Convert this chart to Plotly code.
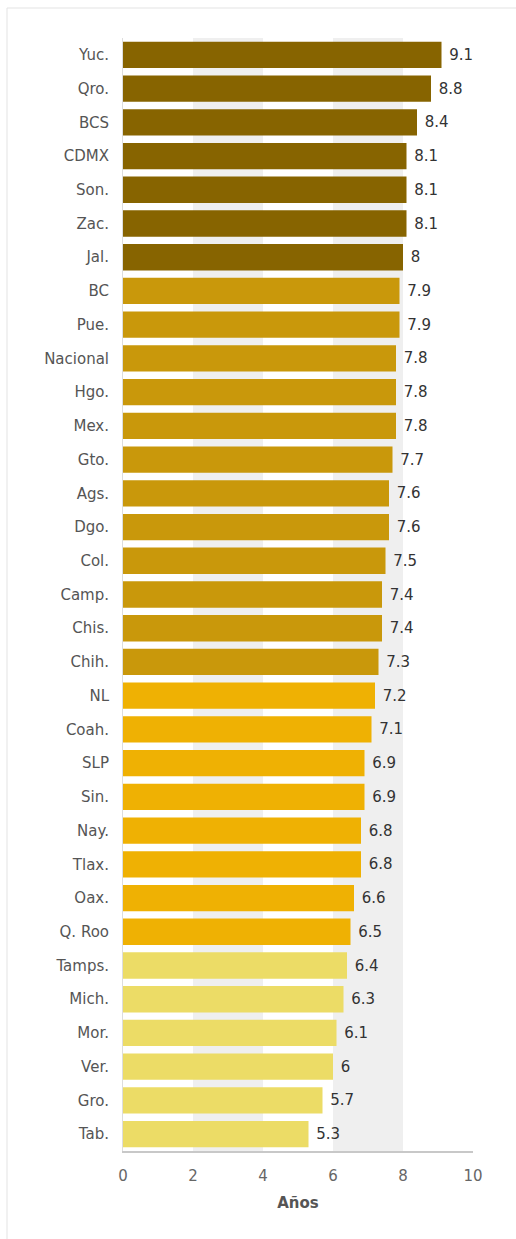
import plotly.graph_objects as go

categories = ["Yuc.", "Qro.", "BCS", "CDMX", "Son.", "Zac.", "Jal.", "BC", "Pue.", "Nacional",
              "Hgo.", "Mex.", "Gto.", "Ags.", "Dgo.", "Col.", "Camp.", "Chis.", "Chih.", "NL",
              "Coah.", "SLP", "Sin.", "Nay.", "Tlax.", "Oax.", "Q. Roo", "Tamps.", "Mich.", "Mor.",
              "Ver.", "Gro.", "Tab."]
values = [9.1, 8.8, 8.4, 8.1, 8.1, 8.1, 8, 7.9, 7.9, 7.8,
          7.8, 7.8, 7.7, 7.6, 7.6, 7.5, 7.4, 7.4, 7.3, 7.2,
          7.1, 6.9, 6.9, 6.8, 6.8, 6.6, 6.5, 6.4, 6.3, 6.1,
          6, 5.7, 5.3]
tiers = [1] * 7 + [2] * 12 + [3] * 8 + [4] * 6
x_ticks = [0, 2, 4, 6, 8, 10]
x_title = "Años"

tier_colors = {1: "#876400", 2: "#c9980b", 3: "#efb103", 4: "#ecdc66"}
bar_colors = [tier_colors[t] for t in tiers]
FONT = "DejaVu Sans, Arial, sans-serif"

fig = go.Figure(go.Bar(
    x=values, y=categories, orientation="h",
    marker=dict(color=bar_colors, line=dict(width=0)),
    text=["\u00a0" + f"{v:g}" for v in values], textposition="outside",
    textfont=dict(family=FONT, size=15, color="#333333"),
    cliponaxis=False, width=0.78,
))

W, H = 516, 1239
L, R, T, B = 123, 43, 38, 88
pw, ph = W - L - R, H - T - B

shapes = []
for a, b in [(2, 4), (6, 8)]:
    shapes.append(dict(type="rect", xref="x", yref="paper", x0=a, x1=b, y0=0, y1=1,
                       fillcolor="#efefef", line=dict(width=0), layer="below"))
# outer frame
shapes.append(dict(type="rect", xref="paper", yref="paper",
                   x0=(7 - L) / pw, x1=(W + 5 - L) / pw,
                   y0=-(H + 5 - T - ph) / ph, y1=(T + ph - 8) / ph,
                   line=dict(color="#e3e3e3", width=1), fillcolor="rgba(0,0,0,0)", layer="below"))

fig.update_layout(
    width=W, height=H, margin=dict(l=L, r=R, t=T, b=B),
    paper_bgcolor="white", plot_bgcolor="white",
    showlegend=False, bargap=0.22,
    font=dict(family=FONT, color="#555555", size=15),
    shapes=shapes,
    xaxis=dict(range=[0, 10], tickvals=x_ticks, showgrid=False, zeroline=False,
               showline=True, linecolor="#c8c8c8", linewidth=1.5,
               ticks="outside", ticklen=10, tickcolor="rgba(0,0,0,0)",
               tickfont=dict(family=FONT, size=15, color="#666666"),
               title=dict(text=f"<b>{x_title}</b>", font=dict(family=FONT, size=15, color="#555555"),
                          standoff=14)),
    yaxis=dict(autorange="reversed", showgrid=False, zeroline=False,
               showline=True, linecolor="#dddddd", linewidth=1,
               ticks="outside", ticklen=10, tickcolor="rgba(0,0,0,0)",
               tickfont=dict(family=FONT, size=15, color="#555555")),
)

fig.write_html("out.html")
